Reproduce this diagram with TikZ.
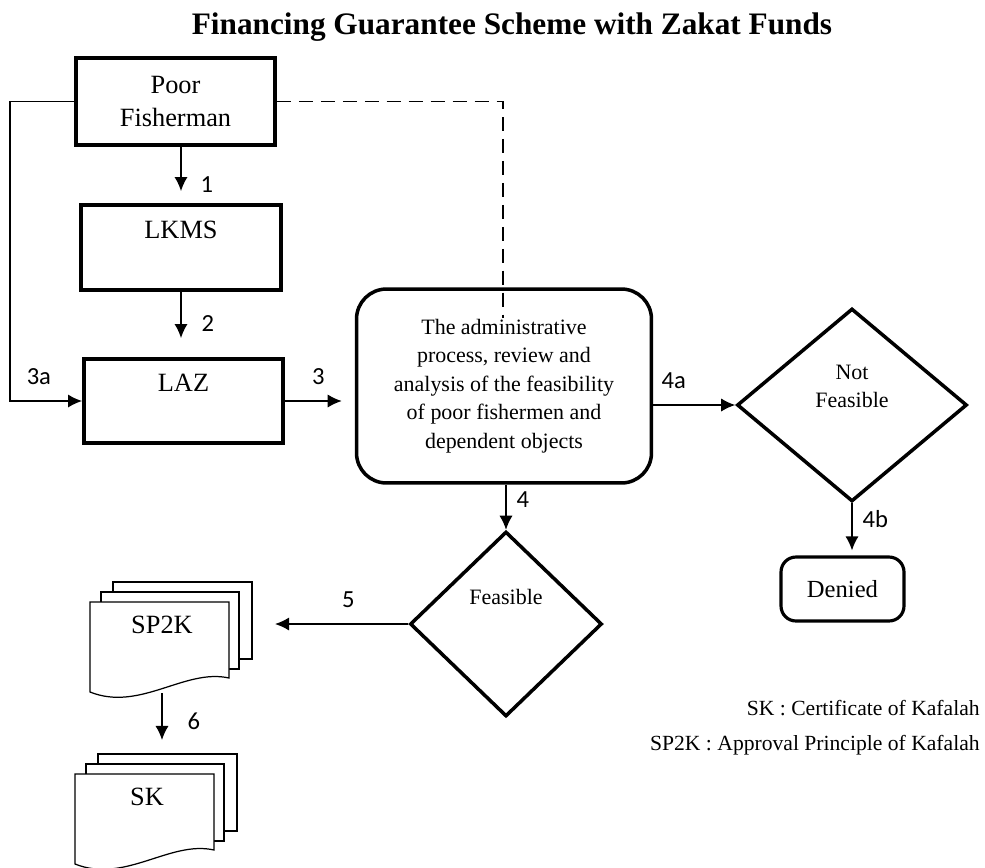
\documentclass[tikz,border=0pt]{standalone}
\usepackage{fontspec}
\setmainfont{Liberation Serif}
\newfontfamily\numfont{Carlito}
\usetikzlibrary{arrows.meta,shapes.geometric,positioning}

% a stack of three pages, front page with top left corner at (#1,#2)
\newcommand{\docstack}[2]{%
	\draw [doc] ({#1+23},{#2-20}) rectangle ({#1+162},{#2+57});
	\draw [doc] ({#1+11},{#2-10}) rectangle ({#1+149},{#2+67});
	\draw [doc] (#1,#2) -- ({#1+139},#2) -- ({#1+139},{#2+76}) .. controls ({#1+95},{#2+66}) and ({#1+50},{#2+110}) .. (#1,{#2+90}) -- cycle;
}

\begin{document}
\begin{tikzpicture}[x=0.02cm, y=-0.02cm, >={Latex[length=8pt,width=7.5pt]},
	box/.style={draw, line width=2.2pt, inner sep=0pt, align=center, font=\fontsize{15}{19}\selectfont},
	roundbox/.style={draw, line width=2pt, rounded corners=0.6cm, inner sep=0pt, align=center},
	decision/.style={draw, diamond, line width=2pt, inner sep=0pt},
	boxtext/.style={anchor=center, inner sep=0pt, align=center, font=\fontsize{15}{19}\selectfont},
	dtext/.style={anchor=center, inner sep=0pt, align=center, font=\fontsize{12.5}{16}\selectfont},
	flow/.style={line width=0.85pt, ->},
	num/.style={inner sep=0pt, font=\numfont\fontsize{14}{16}\selectfont},
	doc/.style={draw, fill=white, line width=0.7pt},
	legend/.style={anchor=east, inner sep=0pt, font=\fontsize{12.3}{14}\selectfont}]
		%				\draw [help lines] (0,0) grid (985,867);
		\useasboundingbox (0,0) rectangle (985,867);
		\node [font=\bfseries\fontsize{17.8}{20}\selectfont] (title) at (512,27) {Financing Guarantee Scheme with Zakat Funds};

		\node [box, minimum width=3.98cm, minimum height=1.74cm] (pf) at (175.5,101.5) {Poor\\Fisherman};
		\node [box, minimum width=4cm, minimum height=1.7cm, label={[boxtext, yshift=-0.54cm]north:LKMS}] (lkms) at (181,247.5) {};
		\node [box, minimum width=3.98cm, minimum height=1.68cm, label={[boxtext, yshift=-0.52cm]north:LAZ}] (laz) at (183.5,401) {};
		\node [roundbox, minimum width=5.9cm, minimum height=3.88cm, font=\fontsize{12.5}{16.2}\selectfont] (proc) at (504,386) {The administrative\\process, review and\\analysis of the feasibility\\of poor fishermen and\\dependent objects};
		\node [decision, minimum width=4.6cm, minimum height=3.86cm, label={[dtext, yshift=0.38cm]center:Not\\Feasible}] (nf) at (852,405) {};
		\node [roundbox, line width=1.8pt, rounded corners=0.3cm, minimum width=2.46cm, minimum height=1.28cm, font=\fontsize{14}{16}\selectfont] (den) at (842.5,589) {Denied};
		\node [decision, minimum width=3.84cm, minimum height=3.7cm, label={[dtext, yshift=0.54cm]center:Feasible}] (feas) at (506,624) {};

		\docstack{90}{602}
		\node [boxtext] (sp2k) at (162,625) {SP2K};
		\docstack{75}{774}
		\node [boxtext] (sk) at (147,797) {SK};
		\coordinate (sp2kin) at (275,624);
		\coordinate (sp2kout) at (162,693);
		\coordinate (skin) at (162,740);
		\coordinate (dashend) at (503,318);

		\draw [flow, shorten >=0.24cm] (lkms.north |- pf.south) -- (lkms.north) node [num, pos=0.67, right=0.38cm] {1};
		\draw [flow, shorten >=0.38cm] (lkms.south) -- (lkms.south |- laz.north) node [num, pos=0.49, right=0.4cm] {2};
		\draw [flow] (pf.west) -- ++(-64,0) |- (laz.west) node [num, pos=0.7, above=0.32cm] {3a};
		\draw [flow, shorten >=0.26cm] (laz.east) -- (laz.east -| proc.west) node [num, pos=0.48, above=0.32cm] {3};
		\draw [line width=0.85pt, dash pattern=on 8pt off 4.5pt] (pf.east) -| (dashend);
		\draw [flow] (proc.east |- nf.west) -- (nf.west) node [num, pos=0.25, above=0.32cm] {4a};
		\draw [flow] (proc.south -| feas.north) -- (feas.north) node [num, pos=0.32, right=0.2cm] {4};
		\draw [flow, shorten >=0.1cm] (nf.south) -- (nf.south |- den.north) node [num, pos=0.3, right=0.2cm] {4b};
		\draw [flow] (feas.west) -- (sp2kin) node [num, pos=0.45, above=0.32cm] {5};
		\draw [flow] (sp2kout) -- (skin) node [num, pos=0.6, right=0.5cm] {6};

		\node [legend] (keysk) at (980,708) {SK : Certificate of Kafalah};
		\node [legend] (keysp2k) at (980,745) {SP2K : Approval Principle of Kafalah};
	\end{tikzpicture}
\end{document}
